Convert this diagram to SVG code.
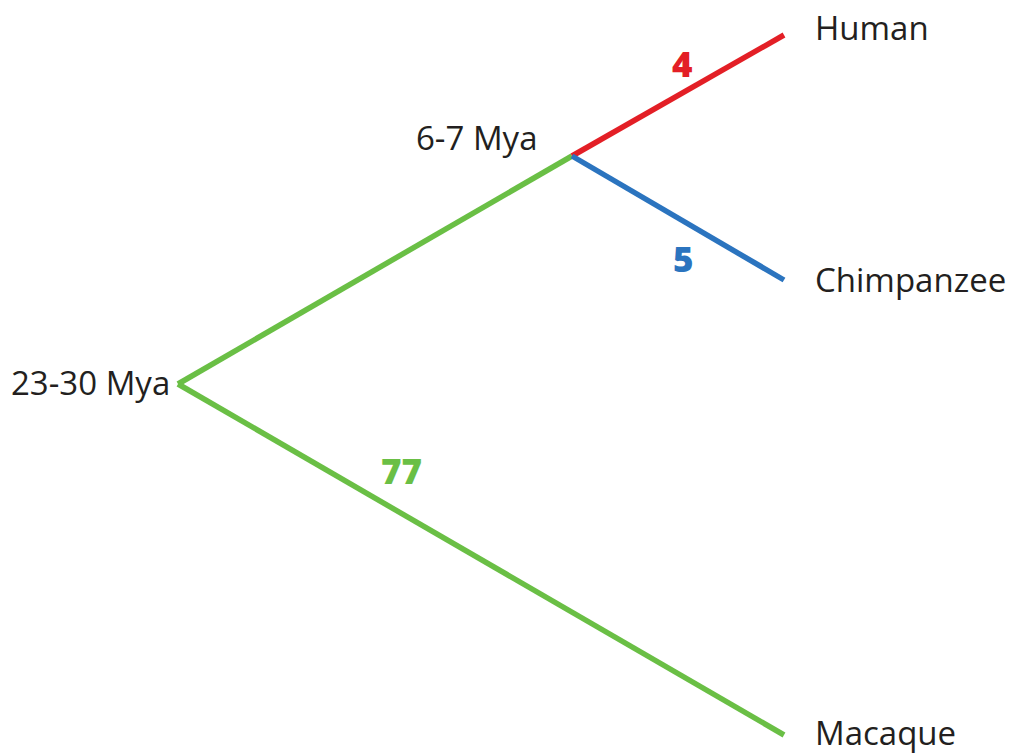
<svg xmlns="http://www.w3.org/2000/svg" width="1016" height="753" viewBox="0 0 1016 753">
<style>
.lbl{font-family:"Open Sans","Noto Sans",sans-serif;font-size:33px;fill:#231f20}
.num{font-family:"Open Sans","Noto Sans",sans-serif;font-size:35px;font-weight:800}
.br{fill:none;stroke-width:5.5;stroke-linecap:butt}
</style>
<rect width="1016" height="753" fill="#fff"/>
<g id="connectors">
<line class="br" x1="178" y1="384" x2="572" y2="156" stroke="#6abf45"/>
<line class="br" x1="178" y1="384" x2="784" y2="735" stroke="#6abf45"/>
<line class="br" x1="572" y1="156" x2="784" y2="35" stroke="#e31f26"/>
<line class="br" x1="572" y1="156" x2="784" y2="280" stroke="#2b74bf"/>
</g>
<g id="root"><text class="lbl" x="11" y="395">23-30 Mya</text></g>
<g id="split"><text class="lbl" x="416" y="150">6-7 Mya</text></g>
<g id="human"><text class="lbl" x="815" y="40">Human</text></g>
<g id="chimp"><text class="lbl" x="815" y="292">Chimpanzee</text></g>
<g id="macaque"><text class="lbl" x="815" y="745">Macaque</text></g>
<g id="labels">
<text class="num" x="672" y="77" fill="#e31f26">4</text>
<text class="num" x="673" y="272" fill="#2b74bf">5</text>
<text class="num" x="381" y="484" fill="#6abf45">77</text>
</g>
</svg>
